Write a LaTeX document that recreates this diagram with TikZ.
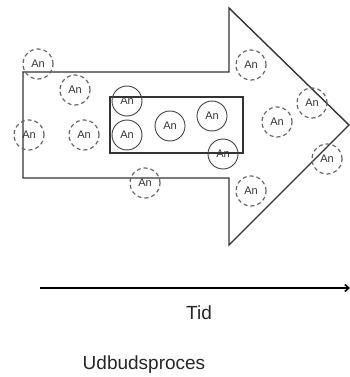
\documentclass[tikz,border=0pt]{standalone}
\usepackage{fontspec}
\setmainfont{Liberation Sans}
\usetikzlibrary{arrows.meta}
\begin{document}
\begin{tikzpicture}[x=1pt,y=-1pt,
  agent/.style={circle,draw=black!75,line width=0.9pt,minimum size=30pt,inner sep=0pt,font=\fontsize{11}{12}\selectfont,text=black!80},
  dagent/.style={agent,line width=1.2pt,dash pattern=on 4pt off 3pt,draw=black!60},
  outline/.style={draw=black!80,line width=1.4pt,line join=miter},
  lbl/.style={font=\fontsize{19}{21}\selectfont,text=black!85}]
\useasboundingbox (0,0) rectangle (350,377);
% big arrow
\draw[outline] (23,72) -- (229,72) -- (229,8) -- (349,125) -- (229,245) -- (229,178) -- (23,178) -- cycle;
% inner box
\draw[outline,line width=1.8pt] (110,97) rectangle (243,153);
% solid agents
\node[agent] (s1) at (127,101) {An};
\node[agent] (s2) at (127,135) {An};
\node[agent] (s3) at (170,126) {An};
\node[agent] (s4) at (212,116) {An};
\node[agent] (s5) at (223,154) {An};
% dashed agents
\node[dagent] (d1) at (38,64) {An};
\node[dagent] (d2) at (75,90) {An};
\node[dagent] (d3) at (29,135) {An};
\node[dagent] (d4) at (84,135) {An};
\node[dagent] (d5) at (145,183) {An};
\node[dagent] (d6) at (251,65) {An};
\node[dagent] (d7) at (277,122) {An};
\node[dagent] (d8) at (312,103) {An};
\node[dagent] (d9) at (327,159) {An};
\node[dagent] (d10) at (251,191) {An};
% time axis
\coordinate (t0) at (40,288);
\coordinate (t1) at (350,288);
\draw[line width=1.6pt,-{Straight Barb[length=4pt,width=7pt]}] (t0) -- (t1);
\node[lbl] (tid) at (199,313) {Tid};
\node[lbl] (udb) at (144,365) {Udbudsproces};
\end{tikzpicture}
\end{document}
